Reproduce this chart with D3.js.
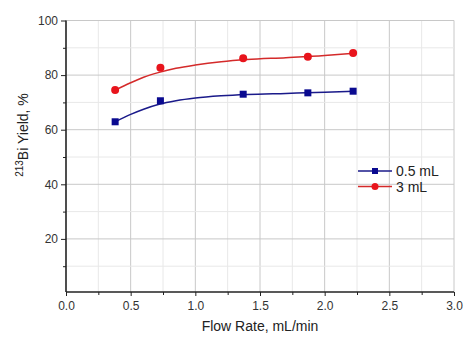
<!DOCTYPE html>
<html><head><meta charset="utf-8">
<script src="https://cdn.jsdelivr.net/npm/d3@7/dist/d3.min.js"></script>
<style>body{margin:0;background:#fff;}svg{display:block;font-family:"Liberation Sans",Arial,sans-serif;}</style>
</head><body>
<script>
const flowRate = [0.38, 0.73, 1.37, 1.87, 2.22];
const yield05 = [62.9, 70.6, 73.0, 73.5, 74.1];
const yield3 = [74.5, 82.7, 86.2, 86.7, 88.1];
// fitted curves
const fitX = [0.38, 0.5, 0.6, 0.72, 0.85, 1.0, 1.2, 1.4, 1.7, 2.0, 2.22];
const fit05 = [62.9, 65.6, 67.5, 69.3, 70.6, 71.6, 72.4, 72.9, 73.3, 73.7, 74.1];
const fit3 = [74.5, 77.2, 79.2, 81.0, 82.5, 83.7, 84.9, 85.7, 86.4, 87.2, 88.0];
const xTicks = [0, 0.5, 1.0, 1.5, 2.0, 2.5, 3.0];
const yTicks = [20, 40, 60, 80, 100];
const seriesNames = ["0.5 mL", "3 mL"];

const W = 474, H = 343;
const svg = d3.select("body").append("svg").attr("width", W).attr("height", H);
const x = d3.scaleLinear().domain([0, 3]).range([66, 454]);
const y = d3.scaleLinear().domain([0, 100]).range([293.5, 20.5]);
const yBottom = 292;

// grid
const g = svg.append("g");
d3.range(0.25, 3.01, 0.25).forEach(v => {
  const major = Math.abs(v * 2 - Math.round(v * 2)) < 1e-6;
  g.append("line").attr("x1", x(v)).attr("x2", x(v)).attr("y1", y(100)).attr("y2", yBottom)
    .attr("stroke", major ? "#c8c8c8" : "#e8e8e8").attr("stroke-width", 1);
});
d3.range(10, 101, 10).forEach(v => {
  const major = v % 20 === 0;
  g.append("line").attr("x1", x(0)).attr("x2", x(3)).attr("y1", y(v)).attr("y2", y(v))
    .attr("stroke", major ? "#c8c8c8" : "#e8e8e8").attr("stroke-width", 1);
});

// axes
const xAxis = d3.axisBottom(x).tickValues(xTicks).tickFormat(d3.format(".1f")).tickSize(4).tickPadding(5);
const xa = svg.append("g").attr("transform", `translate(0,${yBottom})`).call(xAxis);
const xMinor = d3.axisBottom(x).tickValues([0.25,0.75,1.25,1.75,2.25,2.75]).tickFormat("").tickSize(3);
svg.append("g").attr("transform", `translate(0,${yBottom})`).call(xMinor).select(".domain").remove();
const yAxis = d3.axisLeft(y).tickValues(yTicks).tickSize(5).tickPadding(3);
const ya = svg.append("g").attr("transform", `translate(${x(0)},0)`).call(yAxis);
const yMinor = d3.axisLeft(y).tickValues([10,30,50,70,90]).tickFormat("").tickSize(3);
svg.append("g").attr("transform", `translate(${x(0)},0)`).call(yMinor).select(".domain").remove();
[xa, ya].forEach(a => {
  a.select(".domain").attr("stroke", "#222").attr("stroke-width", 1.6);
  a.selectAll("text").attr("font-size", 12).attr("fill", "#333").attr("font-family", "Liberation Sans, Arial, sans-serif");
});
ya.select(".domain").attr("d", `M-0,${y(100)}V${yBottom}`);
xa.select(".domain").attr("d", `M${x(0)},0H${x(3)}`);
svg.selectAll(".tick line").attr("stroke", "#222");

// titles
svg.append("text").attr("x", 260).attr("y", 331).attr("text-anchor", "middle")
  .attr("font-size", 14).attr("fill", "#222").text("Flow Rate, mL/min");
const yt = svg.append("text").attr("transform", "translate(28,135) rotate(-90)")
  .attr("text-anchor", "middle").attr("font-size", 14).attr("fill", "#222");
yt.append("tspan").attr("font-size", 10).attr("dy", -5).text("213");
yt.append("tspan").attr("dy", 5).text("Bi Yield, %");

// fit curves
const colors = ["#1a1a8a", "#d42a2a"];
const markColors = ["#0a0a90", "#e8141c"];
const line = d3.line().x(d => x(d[0])).y(d => y(d[1])).curve(d3.curveMonotoneX);
[fit05, fit3].forEach((f, i) => {
  svg.append("path").attr("d", line(fitX.map((v, j) => [v, f[j]])))
    .attr("fill", "none").attr("stroke", colors[i]).attr("stroke-width", 1.5);
});
// markers
flowRate.forEach((v, j) => {
  svg.append("rect").attr("x", x(v) - 3.5).attr("y", y(yield05[j]) - 3.5).attr("width", 7).attr("height", 7)
    .attr("fill", markColors[0]);
  svg.append("circle").attr("cx", x(v)).attr("cy", y(yield3[j])).attr("r", 4).attr("fill", markColors[1]);
});

// legend
const leg = svg.append("g");
[0, 1].forEach(i => {
  const ly = 171 + i * 15.5;
  leg.append("line").attr("x1", 358).attr("x2", 392).attr("y1", ly).attr("y2", ly)
    .attr("stroke", colors[i]).attr("stroke-width", 1.5);
  if (i === 0) leg.append("rect").attr("x", 375 - 3).attr("y", ly - 3).attr("width", 6).attr("height", 6).attr("fill", markColors[0]);
  else leg.append("circle").attr("cx", 375).attr("cy", ly).attr("r", 3.5).attr("fill", markColors[1]);
  leg.append("text").attr("x", 396).attr("y", ly + 5).attr("font-size", 14).attr("fill", "#222").text(seriesNames[i]);
});
</script>
</body></html>
